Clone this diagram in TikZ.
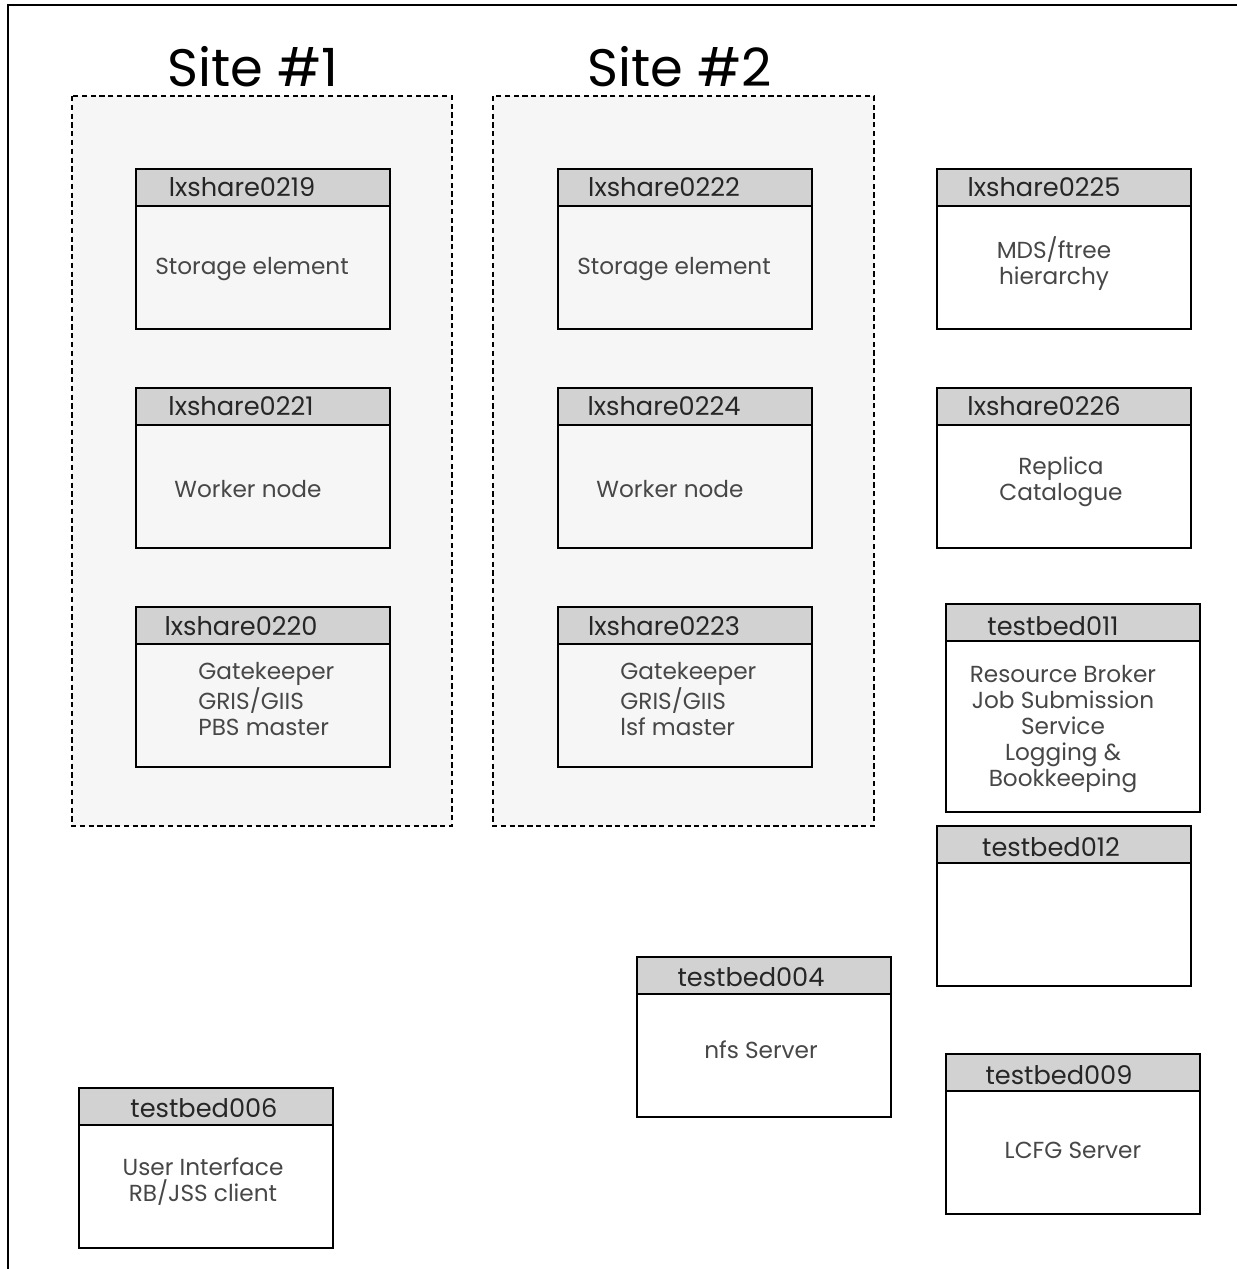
\documentclass[tikz,border=0pt]{standalone}
\usepackage{fontspec}
\setmainfont{Poppins}
\tikzset{
  site/.style={draw, densely dashed, line width=1.4pt, fill=gray!7},
  hostbox/.style={draw, line width=1.4pt, anchor=north west, minimum width=5.08cm, minimum height=3.2cm, inner sep=0pt},
  hosthead/.style={draw, line width=1.1pt, fill=gray!35, anchor=north, minimum width=5.08cm, minimum height=0.74cm, inner sep=0pt},
  headtext/.style={font=\fontsize{14.6}{16}\selectfont, text=black!85, inner sep=0pt},
  bodytext/.style={font=\fontsize{13.2}{14.8}\selectfont, text=black!72, align=center, inner sep=0pt},
  sitetitle/.style={font=\fontsize{30}{34}\selectfont, inner sep=0pt}
}
\begin{document}
\begin{tikzpicture}[x=0.02cm, y=-0.02cm]
  \useasboundingbox (0,0) rectangle (1237,1269);
  \draw [line width=1pt] (8,1269) -- (8,5) -- (1237,5);                       %frame
  \draw [site] (72,96) rectangle (452,826);                                   %site 1
  \node [sitetitle] (site1) at (253,67) {Site \#1};                           %
  \draw [site] (493,96) rectangle (874,826);                                  %site 2
  \node [sitetitle] (site2) at (680,67) {Site \#2};                           %
  % site 1 hosts
  \node [hostbox]  (lx219)  at (135,168) {};                                  %SE
  \node [hosthead] (lx219h) at (lx219.north) {};                              %
  \node [headtext] (lx219n) at (242,187) {lxshare0219};                       %
  \node [bodytext] (lx219b) at (252,269) {Storage element};                   %
  \node [hostbox]  (lx221)  at (135,387) {};                                  %WN
  \node [hosthead] (lx221h) at (lx221.north) {};                              %
  \node [headtext] (lx221n) at (241,406) {lxshare0221};                       %
  \node [bodytext] (lx221b) at (248,489) {Worker node};                       %
  \node [hostbox]  (lx220)  at (135,606) {};                                  %CE
  \node [hosthead] (lx220h) at (lx220.north) {};                              %
  \node [headtext] (lx220n) at (241,626) {lxshare0220};                       %
  \node [bodytext, align=left, anchor=west] (lx220b) at (198,699) {Gatekeeper\\GRIS/GIIS\\PBS master};
  % site 2 hosts
  \node [hostbox]  (lx222)  at (557,168) {};                                  %SE
  \node [hosthead] (lx222h) at (lx222.north) {};                              %
  \node [headtext] (lx222n) at (664,187) {lxshare0222};                       %
  \node [bodytext] (lx222b) at (674,269) {Storage element};                   %
  \node [hostbox]  (lx224)  at (557,387) {};                                  %WN
  \node [hosthead] (lx224h) at (lx224.north) {};                              %
  \node [headtext] (lx224n) at (664,406) {lxshare0224};                       %
  \node [bodytext] (lx224b) at (670,489) {Worker node};                       %
  \node [hostbox]  (lx223)  at (557,606) {};                                  %CE
  \node [hosthead] (lx223h) at (lx223.north) {};                              %
  \node [headtext] (lx223n) at (664,626) {lxshare0223};                       %
  \node [bodytext, align=left, anchor=west] (lx223b) at (620,699) {Gatekeeper\\GRIS/GIIS\\lsf master};
  % central services
  \node [hostbox, fill=white]  (lx225)  at (936,168) {};                      %MDS
  \node [hosthead] (lx225h) at (lx225.north) {};                              %
  \node [headtext] (lx225n) at (1044,187) {lxshare0225};                      %
  \node [bodytext] (lx225b) at (1054,264) {MDS/ftree\\hierarchy};             %
  \node [hostbox, fill=white]  (lx226)  at (936,387) {};                      %RC
  \node [hosthead] (lx226h) at (lx226.north) {};                              %
  \node [headtext] (lx226n) at (1044,406) {lxshare0226};                      %
  \node [bodytext] (lx226b) at (1061,482) {Replica\\Catalogue};               %
  \node [hostbox, fill=white, minimum height=4.16cm] (tb011) at (945,603) {}; %RB
  \node [hosthead] (tb011h) at (tb011.north) {};                              %
  \node [headtext] (tb011n) at (1053,626) {testbed011};                       %
  \node [bodytext] (tb011b) at (1063,729) {Resource Broker\\Job Submission\\Service\\Logging \&\\Bookkeeping};
  \node [hostbox, fill=white]  (tb012)  at (936,825) {};                      %
  \node [hosthead] (tb012h) at (tb012.north) {};                              %
  \node [headtext] (tb012n) at (1051,847) {testbed012};                       %
  \node [hostbox, fill=white]  (tb004)  at (636,956) {};                      %NFS
  \node [hosthead] (tb004h) at (tb004.north) {};                              %
  \node [headtext] (tb004n) at (751,977) {testbed004};                        %
  \node [bodytext] (tb004b) at (761,1050) {nfs Server};                       %
  \node [hostbox, fill=white]  (tb009)  at (945,1053) {};                     %LCFG
  \node [hosthead] (tb009h) at (tb009.north) {};                              %
  \node [headtext] (tb009n) at (1059,1075) {testbed009};                      %
  \node [bodytext] (tb009b) at (1073,1150) {LCFG Server};                     %
  \node [hostbox, fill=white]  (tb006)  at (78,1087) {};                      %UI
  \node [hosthead] (tb006h) at (tb006.north) {};                              %
  \node [headtext] (tb006n) at (204,1108) {testbed006};                       %
  \node [bodytext] (tb006b) at (203,1182) {User Interface\\RB/JSS client};    %
\end{tikzpicture}
\end{document}
